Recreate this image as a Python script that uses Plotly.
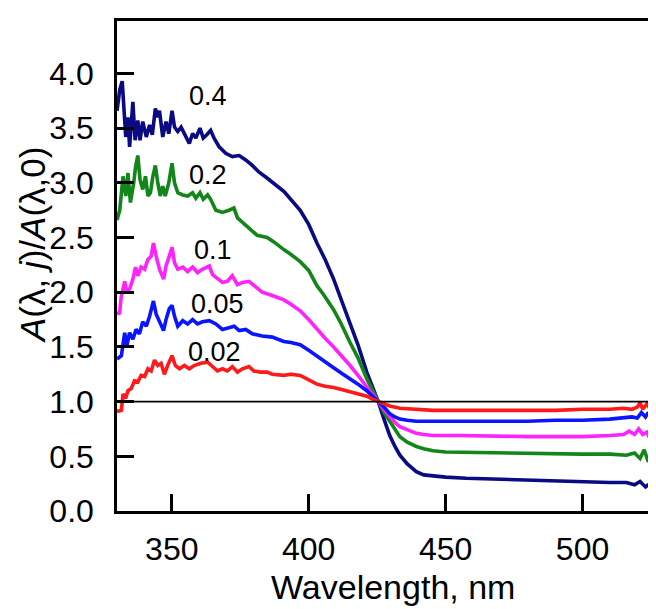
import plotly.graph_objects as go

# ---- data ----
wl_04 = [330.0, 331.0, 331.9, 332.6, 333.2, 334.0, 334.6, 335.8, 336.6, 337.6, 338.4, 339.4, 340.7,
         341.9, 342.9, 344.0, 344.9, 345.5, 346.7, 347.9, 348.9, 350.1, 351.0, 352.2, 353.4, 354.6,
         356.4, 357.6, 358.8, 360.3, 361.5, 362.8, 364.2, 365.4, 367.3, 369.7, 372.1, 374.6, 377.0,
         379.4, 381.8, 385.0, 391.0, 396.9, 400.0, 403.0, 406.0, 409.1, 412.0, 415.1, 418.0, 421.2,
         423.5, 425.4, 427.5, 429.6, 431.5, 433.3, 436.0, 439.3, 442.0, 445.4, 450.0, 457.5, 470.0,
         480.0, 490.0, 500.0, 510.0, 516.0, 519.0, 521.0, 523.0, 525.0]
a_04 = [3.66, 3.85, 3.93, 3.70, 3.42, 3.60, 3.33, 3.74, 3.39, 3.57, 3.39, 3.56, 3.42,
        3.53, 3.44, 3.68, 3.60, 3.66, 3.42, 3.56, 3.45, 3.66, 3.51, 3.47, 3.51, 3.45,
        3.36, 3.45, 3.41, 3.50, 3.41, 3.44, 3.48, 3.41, 3.33, 3.27, 3.24, 3.25, 3.21,
        3.16, 3.10, 3.04, 2.92, 2.75, 2.62, 2.45, 2.30, 2.12, 1.93, 1.72, 1.52, 1.27,
        1.12, 1.00, 0.84, 0.69, 0.59, 0.51, 0.43, 0.36, 0.33, 0.32, 0.31, 0.30, 0.29,
        0.28, 0.27, 0.27, 0.26, 0.26, 0.24, 0.27, 0.22, 0.26]

wl_02 = [330.0, 331.0, 332.2, 333.2, 334.0, 334.9, 336.1, 336.8, 337.6, 338.4, 339.4, 340.4, 341.3,
         342.2, 343.1, 344.0, 344.9, 345.8, 346.7, 347.6, 348.9, 350.1, 351.0, 352.2, 354.0, 355.8,
         357.6, 358.8, 360.3, 361.5, 363.1, 364.2, 366.1, 368.5, 370.9, 372.7, 374.0, 375.8, 378.2,
         381.2, 384.8, 387.3, 390.9, 393.3, 396.9, 400.0, 403.0, 405.4, 409.1, 411.5, 415.1, 418.0,
         421.2, 423.5, 425.4, 427.5, 429.6, 431.5, 433.3, 436.0, 439.3, 442.0, 445.4, 450.0, 460.0,
         470.0, 480.0, 490.0, 500.0, 510.0, 516.0, 519.0, 521.0, 522.5, 524.0, 525.0]
a_02 = [2.66, 2.75, 3.06, 2.88, 3.09, 2.82, 3.00, 3.15, 3.25, 3.03, 2.94, 3.06, 2.88,
        2.91, 3.06, 3.16, 3.00, 2.88, 2.97, 2.88, 3.00, 3.18, 3.00, 2.91, 2.89, 2.88,
        2.91, 2.86, 2.91, 2.85, 2.89, 2.85, 2.75, 2.73, 2.75, 2.77, 2.68, 2.64, 2.58,
        2.52, 2.50, 2.46, 2.39, 2.35, 2.28, 2.20, 2.06, 1.98, 1.84, 1.73, 1.54, 1.40,
        1.21, 1.10, 1.00, 0.90, 0.82, 0.74, 0.68, 0.63, 0.59, 0.57, 0.55, 0.54, 0.535,
        0.53, 0.53, 0.52, 0.52, 0.52, 0.51, 0.53, 0.48, 0.56, 0.45, 0.50]

wl_01 = [330.0, 330.9, 331.5, 332.8, 333.6, 334.6, 335.8, 336.8, 337.6, 338.8, 340.1, 341.3, 342.5,
         343.3, 344.3, 345.5, 347.0, 347.9, 349.1, 350.1, 351.0, 352.2, 354.0, 355.8, 357.6, 359.4,
         361.2, 363.7, 364.9, 366.7, 368.5, 370.3, 372.1, 374.0, 375.8, 378.2, 380.6, 383.0, 386.7,
         390.9, 393.5, 396.9, 400.0, 403.0, 406.0, 409.1, 412.0, 415.1, 418.0, 421.2, 423.5, 425.4,
         427.5, 429.6, 431.5, 433.3, 436.0, 439.3, 442.0, 445.4, 455.0, 470.0, 480.0, 490.0, 500.0,
         510.0, 515.0, 517.0, 519.0, 520.5, 522.0, 523.5, 525.0]
a_01 = [1.82, 1.80, 1.95, 2.10, 2.00, 2.03, 2.12, 2.23, 2.15, 2.23, 2.21, 2.30, 2.33,
        2.45, 2.33, 2.21, 2.12, 2.24, 2.33, 2.41, 2.27, 2.21, 2.23, 2.19, 2.23, 2.18,
        2.21, 2.24, 2.16, 2.12, 2.09, 2.10, 2.15, 2.07, 2.09, 2.10, 2.05, 2.00, 1.97,
        1.93, 1.89, 1.83, 1.75, 1.66, 1.58, 1.50, 1.42, 1.33, 1.24, 1.14, 1.07, 1.00,
        0.93, 0.86, 0.81, 0.77, 0.74, 0.71, 0.70, 0.69, 0.69, 0.68, 0.68, 0.68, 0.68,
        0.69, 0.70, 0.73, 0.70, 0.75, 0.70, 0.72, 0.64]

wl_005 = [330.0, 331.6, 332.8, 333.6, 334.6, 335.8, 337.0, 338.2, 339.4, 340.7, 341.9, 343.3, 344.3,
          345.5, 347.0, 347.9, 349.1, 350.1, 351.0, 352.2, 354.0, 355.8, 357.6, 359.4, 361.2, 363.7,
          366.1, 368.5, 370.9, 372.8, 374.6, 377.0, 379.4, 383.0, 386.7, 390.9, 393.5, 396.9, 400.0,
          403.0, 406.0, 409.1, 412.0, 415.1, 418.0, 421.2, 423.5, 425.4, 427.5, 429.6, 431.5, 433.3,
          436.0, 439.3, 445.4, 455.0, 470.0, 480.0, 490.0, 500.0, 510.0, 515.0, 518.0, 520.0, 521.5,
          523.0, 524.0, 525.0]
a_005 = [1.39, 1.42, 1.63, 1.51, 1.63, 1.57, 1.66, 1.62, 1.73, 1.69, 1.78, 1.92, 1.80,
         1.73, 1.65, 1.75, 1.85, 1.88, 1.78, 1.69, 1.74, 1.71, 1.75, 1.71, 1.73, 1.74,
         1.71, 1.66, 1.68, 1.69, 1.65, 1.66, 1.62, 1.60, 1.59, 1.55, 1.54, 1.52, 1.47,
         1.42, 1.37, 1.31, 1.26, 1.21, 1.16, 1.10, 1.05, 1.00, 0.95, 0.89, 0.86, 0.84,
         0.83, 0.82, 0.82, 0.82, 0.82, 0.82, 0.83, 0.83, 0.84, 0.85, 0.86, 0.85, 0.90,
         0.86, 0.90, 0.84]

wl_002 = [330.0, 331.6, 332.2, 333.2, 334.0, 335.2, 336.4, 337.6, 338.8, 340.1, 341.3, 342.5, 343.7,
          344.9, 346.1, 347.3, 348.5, 350.1, 351.3, 352.8, 354.6, 356.4, 358.2, 360.6, 363.1, 364.9,
          366.7, 368.5, 370.3, 372.1, 374.0, 375.8, 378.2, 380.0, 382.4, 384.8, 386.7, 390.9, 393.5,
          396.9, 400.0, 403.0, 406.0, 409.1, 412.0, 415.1, 418.0, 421.2, 423.5, 425.4, 427.5, 429.6,
          433.3, 439.3, 445.4, 455.0, 470.0, 480.0, 490.0, 500.0, 510.0, 515.0, 518.0, 520.0, 521.0,
          522.0, 523.5, 525.0]
a_002 = [0.91, 0.92, 1.07, 1.03, 1.10, 1.12, 1.19, 1.18, 1.24, 1.23, 1.30, 1.28, 1.38,
         1.33, 1.35, 1.25, 1.33, 1.42, 1.33, 1.30, 1.33, 1.30, 1.33, 1.35, 1.36, 1.32,
         1.28, 1.30, 1.28, 1.32, 1.27, 1.30, 1.32, 1.28, 1.27, 1.27, 1.25, 1.24, 1.25,
         1.24, 1.20, 1.16, 1.14, 1.13, 1.11, 1.09, 1.07, 1.05, 1.02, 1.00, 0.98, 0.96,
         0.94, 0.93, 0.92, 0.92, 0.92, 0.92, 0.92, 0.93, 0.93, 0.94, 0.93, 0.95, 0.99,
         0.93, 0.98, 0.92]

series_names = ["0.4", "0.2", "0.1", "0.05", "0.02"]
series_x = [wl_04, wl_02, wl_01, wl_005, wl_002]
series_y = [a_04, a_02, a_01, a_005, a_002]
series_colors = ["#0a0a82", "#13861a", "#ff22ff", "#0a14ff", "#ff1a1a"]
label_x = [363.1, 363.4, 364.9, 366.7, 365.5]
label_y = [3.79, 3.07, 2.39, 1.89, 1.45]

ref_x = [330, 525]
ref_y = [1.0, 1.0]

x_ticks = [350, 400, 450, 500]
y_ticks = [0.0, 0.5, 1.0, 1.5, 2.0, 2.5, 3.0, 3.5, 4.0]

FONT = "Liberation Sans, Arial, sans-serif"

fig = go.Figure()
for name, xs, ys, c in zip(series_names, series_x, series_y, series_colors):
    fig.add_trace(go.Scatter(x=xs, y=ys, mode="lines", name=name,
                             line=dict(color=c, width=3.6), showlegend=False))
fig.add_trace(go.Scatter(x=ref_x, y=ref_y, mode="lines", line=dict(color="black", width=1.6),
                         showlegend=False))

for name, lx, ly in zip(series_names, label_x, label_y):
    fig.add_annotation(x=lx, y=ly, xref="x", yref="y", text=name, showarrow=False,
                       font=dict(family=FONT, size=27, color="black"),
                       xanchor="center", yanchor="middle")

fig.add_annotation(x=0.516, y=-0.156, xref="paper", yref="paper", text="Wavelength, nm",
                   showarrow=False, font=dict(family=FONT, size=34, color="black"),
                   xanchor="center", yanchor="middle")
fig.add_annotation(x=-0.158, y=0.544, xref="paper", yref="paper",
                   text="<i>A</i>(λ, <i>j</i>)/<i>A</i>(λ,0)", textangle=-90,
                   showarrow=False, font=dict(family=FONT, size=35, color="black"),
                   xanchor="center", yanchor="middle")

fig.update_layout(
    width=656, height=609,
    margin=dict(l=109, r=10, t=10, b=106),
    paper_bgcolor="white", plot_bgcolor="white",
    font=dict(family=FONT, size=32, color="black"),
)
fig.update_xaxes(range=[330, 525], tickvals=x_ticks, ticks="inside", ticklen=17, tickwidth=2.5,
                 tickcolor="black", showline=True, linecolor="black", linewidth=2.5, mirror=True,
                 showgrid=False, zeroline=False, ticklabelstandoff=8,
                 tickfont=dict(family=FONT, size=32, color="black"))
fig.update_yaxes(range=[0, 4.48], tickvals=y_ticks, tickformat=".1f", ticks="inside", ticklen=17,
                 tickwidth=2.5, tickcolor="black", showline=True, linecolor="black", linewidth=2.5,
                 mirror=True, showgrid=False, zeroline=False, ticklabelstandoff=14,
                 tickfont=dict(family=FONT, size=32, color="black"))

fig.write_html("out.html")
